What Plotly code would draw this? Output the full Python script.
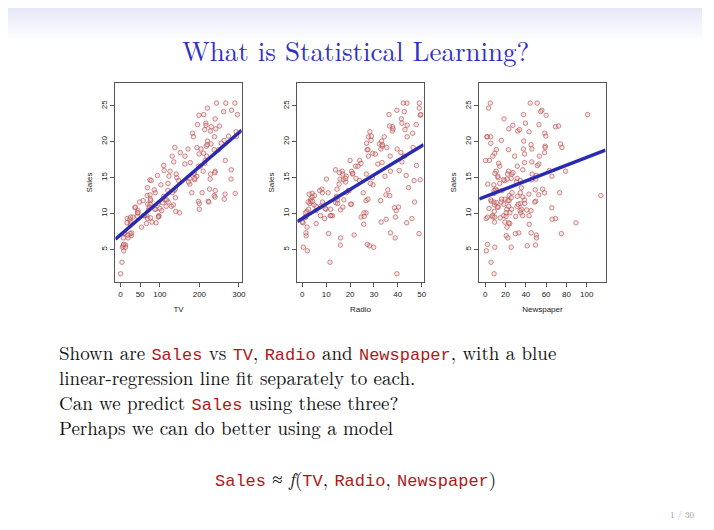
import plotly.graph_objects as go

# Advertising data (subset)
tv = [230.1, 44.5, 17.2, 151.5, 180.8, 8.7, 57.5, 120.2, 8.6, 199.8, 66.1, 214.7, 23.8, 97.5, 204.1,
      195.4, 67.8, 281.4, 69.2, 147.3, 218.4, 237.4, 13.2, 228.3, 62.3, 262.9, 142.9, 240.1, 248.8, 70.6,
      292.9, 112.9, 97.2, 265.6, 95.7, 290.7, 266.9, 74.7, 43.1, 228.0, 202.5, 177.0, 293.6, 206.9, 25.1,
      175.1, 89.7, 239.9, 227.2, 66.9, 199.8, 100.4, 216.4, 182.6, 262.7, 198.9, 7.3, 136.2, 210.8, 210.7,
      53.5, 261.3, 239.3, 102.7, 131.1, 69.0, 31.5, 139.3, 237.4, 216.8, 199.1, 109.8, 26.8, 129.4, 213.4,
      16.9, 27.5, 120.5, 5.4, 116.0, 76.4, 239.8, 75.3, 68.4, 213.5, 193.2, 76.3, 110.7, 88.3, 109.8,
      134.3, 28.6, 217.7, 250.9, 107.4, 163.3, 197.6, 184.9, 289.7, 135.2, 222.4, 296.4, 280.2, 187.9, 238.2,
      137.9, 25.0, 90.4, 13.1, 255.4, 225.8, 241.7, 175.7, 209.6, 78.2, 75.1, 139.2, 76.4, 125.7, 19.4,
      141.3, 18.8, 224.0, 123.1, 229.5, 87.2, 7.8, 80.2, 220.3, 59.6, 0.7, 265.2, 8.4, 219.8, 36.9,
      48.3, 25.6, 273.7, 43.0, 184.9, 73.4, 193.7, 220.5, 104.6, 96.2, 140.3, 240.1, 243.2, 38.0, 44.7,
      280.7, 121.0, 197.6, 171.3, 187.8, 4.1, 93.9, 149.8, 11.7, 131.7, 172.5, 85.7, 188.4, 163.5, 117.2]
radio = [37.8, 39.3, 45.9, 41.3, 10.8, 48.9, 32.8, 19.6, 2.1, 2.6, 5.8, 24.0, 35.1, 7.6, 32.9,
         47.7, 36.6, 39.6, 20.5, 23.9, 27.7, 5.1, 15.9, 16.9, 12.6, 3.5, 29.3, 16.7, 27.1, 16.0,
         28.3, 17.4, 1.5, 20.0, 1.4, 4.1, 43.8, 49.4, 26.7, 37.7, 22.3, 33.4, 27.7, 8.4, 25.7,
         22.5, 9.9, 41.5, 15.8, 11.7, 3.1, 9.6, 41.7, 46.2, 28.8, 49.4, 28.1, 19.2, 49.6, 29.5,
         2.0, 42.7, 15.5, 29.6, 42.8, 9.3, 24.6, 14.5, 27.5, 43.9, 30.6, 14.3, 33.0, 5.7, 24.6,
         43.7, 1.6, 28.5, 29.9, 7.7, 26.7, 4.1, 20.3, 44.5, 43.0, 18.4, 27.5, 40.6, 25.5, 47.8,
         4.9, 1.5, 33.5, 36.5, 14.0, 31.6, 3.5, 21.0, 42.3, 41.7, 4.3, 36.3, 10.1, 17.2, 34.3,
         46.4, 11.0, 0.3, 0.4, 26.9, 8.2, 38.0, 15.4, 20.6, 46.8, 35.0, 14.3, 0.8, 36.9, 16.0,
         26.8, 21.7, 2.4, 34.6, 32.3, 11.8, 38.9, 0.0, 49.0, 12.0, 39.6, 2.9, 27.2, 33.5, 38.6,
         47.0, 39.0, 28.9, 25.9, 43.9, 17.0, 35.4, 33.2, 5.7, 14.8, 1.9, 7.3, 49.0, 40.3, 25.8,
         13.9, 8.4, 23.3, 39.7, 21.1, 11.6, 43.5, 1.3, 36.9, 18.4, 18.1, 35.8, 18.1, 36.8, 14.7]
newspaper = [69.2, 45.1, 69.3, 58.5, 58.4, 75.0, 23.5, 11.6, 1.0, 21.2, 24.2, 4.0, 65.9, 7.2, 46.0,
             52.9, 114.0, 55.8, 18.3, 19.1, 53.4, 23.5, 49.6, 26.2, 18.3, 19.5, 12.6, 22.9, 22.9, 40.8,
             43.2, 38.6, 30.0, 0.3, 7.4, 8.5, 5.0, 45.7, 35.1, 32.0, 31.6, 38.7, 1.8, 26.4, 43.3,
             31.5, 35.7, 18.5, 49.9, 36.8, 34.6, 3.6, 39.6, 58.7, 15.9, 60.0, 41.4, 16.6, 37.7, 9.3,
             21.4, 54.7, 27.3, 8.4, 28.9, 0.9, 2.2, 10.2, 11.0, 27.2, 38.7, 31.7, 19.3, 31.3, 13.1,
             89.4, 20.7, 14.2, 9.4, 23.1, 22.3, 36.9, 32.5, 35.6, 33.8, 65.7, 16.0, 63.2, 73.4, 51.4,
             9.3, 33.0, 59.0, 72.3, 10.9, 52.9, 5.9, 22.0, 51.2, 45.9, 49.8, 100.9, 21.4, 17.9, 5.3,
             59.0, 29.7, 23.2, 25.6, 5.5, 56.5, 23.2, 2.4, 10.7, 34.5, 52.7, 25.6, 14.8, 79.2, 22.3,
             46.2, 50.4, 15.6, 12.4, 74.2, 25.9, 50.6, 9.2, 3.2, 43.1, 8.7, 43.0, 2.1, 45.1, 65.6,
             8.5, 9.3, 59.7, 20.5, 1.7, 12.9, 75.6, 37.9, 34.4, 38.9, 9.0, 8.7, 44.3, 11.9, 20.6,
             37.0, 48.7, 14.2, 37.7, 9.5, 5.7, 50.5, 24.3, 45.2, 34.6, 30.7, 49.3, 25.6, 7.4, 5.4]
sales = [22.1, 10.4, 9.3, 18.5, 12.9, 7.2, 11.8, 13.2, 4.8, 10.6, 8.6, 17.4, 9.2, 9.7, 19.0,
         22.4, 12.5, 24.4, 11.3, 14.6, 18.0, 12.5, 5.6, 15.5, 9.7, 12.0, 15.0, 15.9, 18.9, 10.5,
         21.4, 11.9, 9.6, 17.4, 9.5, 12.8, 25.4, 14.7, 10.1, 21.5, 16.6, 17.1, 20.7, 12.9, 8.5,
         14.9, 10.6, 23.2, 14.8, 9.7, 11.4, 10.7, 22.6, 21.2, 20.2, 23.7, 5.5, 13.2, 23.8, 18.4,
         8.1, 24.2, 15.7, 14.0, 18.0, 9.3, 9.5, 13.4, 18.9, 22.3, 18.3, 12.4, 8.8, 11.0, 17.0,
         8.7, 6.9, 14.2, 5.3, 11.0, 11.8, 12.3, 11.3, 13.6, 21.7, 15.2, 12.0, 16.0, 12.9, 16.7,
         11.2, 7.3, 19.4, 22.2, 11.5, 16.9, 11.7, 15.5, 25.4, 17.2, 11.7, 23.8, 14.8, 14.7, 20.7,
         19.2, 7.2, 8.7, 5.3, 19.8, 13.4, 21.8, 14.1, 15.9, 14.6, 12.6, 12.2, 9.4, 15.9, 6.6,
         15.5, 7.0, 11.6, 15.2, 19.7, 10.6, 6.6, 8.8, 24.7, 9.7, 1.6, 12.7, 5.7, 19.6, 10.8,
         11.6, 9.5, 20.8, 9.6, 20.7, 10.9, 19.2, 20.1, 10.4, 11.4, 10.3, 13.2, 25.4, 10.9, 10.1,
         16.1, 11.6, 16.6, 19.0, 15.6, 3.2, 15.3, 10.1, 7.3, 12.9, 14.4, 13.3, 14.9, 18.0, 11.9]

# least-squares fits (intercept, slope) for each predictor
fits = {"TV": (7.03, 0.0475), "Radio": (9.31, 0.2025), "Newspaper": (12.35, 0.0547)}
x_ranges = {"TV": (-12.6, 307), "Radio": (-2.1, 50.8), "Newspaper": (-5.9, 118.6)}
x_ticks = {"TV": [0, 50, 100, 200, 300], "Radio": [0, 10, 20, 30, 40, 50],
           "Newspaper": [0, 20, 40, 60, 80, 100]}
y_ticks = [5, 10, 15, 20, 25]
y_range = (0.45, 28.2)

# page body has an 8px margin, so the figure is drawn 8px in from the window corner
OFF = 8
W, H = 714 - 2 * OFF, 530 - 2 * OFF
px = lambda v: (v - OFF) / W
py = lambda v: 1 - (v - OFF) / H

panels = [("TV", tv, 116, 243), ("Radio", radio, 299, 426), ("Newspaper", newspaper, 482, 609)]
top, bottom = 83, 282

fig = go.Figure()
small = dict(family="Liberation Sans", size=8, color="#222")
for i, (name, xs, x0, x1) in enumerate(panels, start=1):
    xa, ya = ("x" if i == 1 else f"x{i}"), ("y" if i == 1 else f"y{i}")
    fig.add_trace(go.Scatter(
        x=xs, y=sales[:len(xs)], mode="markers", xaxis=xa, yaxis=ya, showlegend=False,
        marker=dict(size=4.5, color="rgba(235,180,180,0.35)",
                    line=dict(width=0.8, color="rgba(170,60,60,0.7)"))))
    b0, b1 = fits[name]
    lx = list(x_ranges[name])
    fig.add_trace(go.Scatter(
        x=lx, y=[b0 + b1 * v for v in lx], mode="lines", xaxis=xa, yaxis=ya,
        showlegend=False, line=dict(color="#2a2ab0", width=3.5)))
    common = dict(showgrid=False, zeroline=False, showline=True, linecolor="#555",
                  linewidth=1, mirror=True, ticks="outside", ticklen=4,
                  tickcolor="#555", tickfont=small)
    fig.layout[f"xaxis{'' if i == 1 else i}"] = dict(
        domain=[px(x0), px(x1)], range=x_ranges[name], tickvals=x_ticks[name],
        anchor=ya, title=dict(text=name, font=small, standoff=8), **common)
    fig.layout[f"yaxis{'' if i == 1 else i}"] = dict(
        domain=[py(bottom), py(top)], range=y_range, tickvals=y_ticks,
        tickangle=-90, anchor=xa, title=dict(text="Sales", font=small, standoff=6), **common)

# header gradient band
for k in range(16):
    fig.add_shape(type="rect", xref="paper", yref="paper", x0=0, x1=1,
                  y0=1 - (k + 1) * 2 / H, y1=1 - k * 2 / H, line_width=0,
                  fillcolor=f"rgba(205,210,240,{0.5 * (1 - k / 16):.3f})", layer="below")

serif = "Latin Modern Roman, Liberation Serif, serif"
code = "color:#b01818;font-family:Liberation Mono,monospace;font-size:17px"


def note(x, y, text, size=19, color="#111", xanchor="left"):
    fig.add_annotation(x=px(x), y=py(y), xref="paper", yref="paper", xanchor=xanchor,
                       yanchor="middle", showarrow=False, text=text,
                       font=dict(family=serif, size=size, color=color))


note(357, 50, "What is Statistical Learning?", size=27, color="#2f2fc8", xanchor="center")
lines = [
    f"Shown are <span style='{code}'>Sales</span> vs <span style='{code}'>TV</span>, "
    f"<span style='{code}'>Radio</span> and <span style='{code}'>Newspaper</span>, with a blue",
    "linear-regression line fit separately to each.",
    f"Can we predict <span style='{code}'>Sales</span> using these three?",
    "Perhaps we can do better using a model",
]
for j, t in enumerate(lines):
    note(57, 352 + 25.3 * j, t)
note(357, 478, f"<span style='{code}'>Sales</span> ≈ <i>f</i>(<span style='{code}'>TV</span>, "
               f"<span style='{code}'>Radio</span>, <span style='{code}'>Newspaper</span>)",
     xanchor="center")
note(700, 514, "1 / 30", size=9, color="#999", xanchor="right")

fig.update_layout(width=W, height=H, margin=dict(l=0, r=0, t=0, b=0),
                  paper_bgcolor="white", plot_bgcolor="white")
fig.write_html("out.html")
